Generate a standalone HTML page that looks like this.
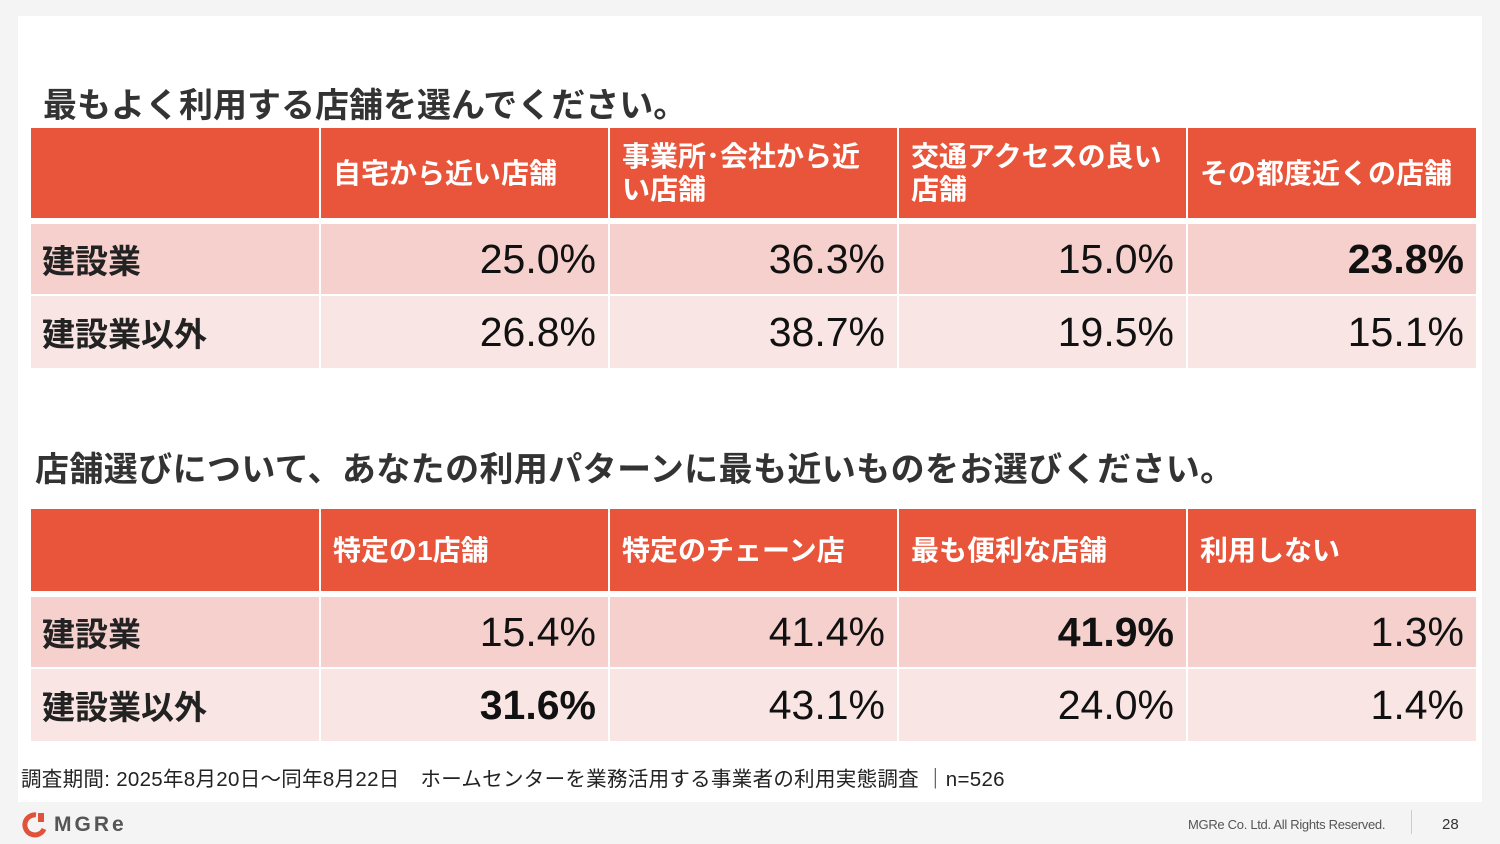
<!DOCTYPE html>
<html><head><meta charset="utf-8"><style>
body{margin:0;width:1500px;height:844px;background:#f4f4f4;position:relative;overflow:hidden;font-family:"Liberation Sans","Noto Sans CJK JP",sans-serif;color:#222}
.card{position:absolute;left:18px;top:16px;width:1464px;height:786px;background:#fff}
.c{position:absolute;box-sizing:border-box;display:flex;align-items:center}
.h{background:#e8553a;color:#fff;font-weight:bold;font-size:28px;line-height:33px;padding-left:12px}
.r1{background:#f5d0cc}.r2{background:#f9e6e4}
.lab{font-weight:bold;font-size:33px;padding-left:11px;color:#222}
.num{justify-content:flex-end;padding-right:12px;font-size:41px;color:#111}
.b{font-weight:bold}
.t{position:absolute;font-weight:bold;font-size:34px;color:#333;white-space:nowrap}
</style></head><body>
<div class="card"></div>
<div class="t" style="left:43px;top:78px">最もよく利用する店舗を選んでください。</div>
<div class="t" style="left:35px;top:442px;letter-spacing:0.4px">店舗選びについて、あなたの利用パターンに最も近いものをお選びください。</div>

<!-- table 1 -->
<div class="c h" style="left:31px;top:128px;width:288px;height:90px"></div>
<div class="c h" style="left:321px;top:128px;width:287px;height:90px">自宅から近い店舗</div>
<div class="c h" style="left:610px;top:128px;width:287px;height:90px">事業所･会社から近<br>い店舗</div>
<div class="c h" style="left:899px;top:128px;width:287px;height:90px">交通アクセスの良い<br>店舗</div>
<div class="c h" style="left:1188px;top:128px;width:288px;height:90px">その都度近くの店舗</div>

<div class="c r1 lab" style="left:31px;top:224px;width:288px;height:70px">建設業</div>
<div class="c r1 num" style="left:321px;top:224px;width:287px;height:70px">25.0%</div>
<div class="c r1 num" style="left:610px;top:224px;width:287px;height:70px">36.3%</div>
<div class="c r1 num" style="left:899px;top:224px;width:287px;height:70px">15.0%</div>
<div class="c r1 num b" style="left:1188px;top:224px;width:288px;height:70px">23.8%</div>

<div class="c r2 lab" style="left:31px;top:296px;width:288px;height:72px">建設業以外</div>
<div class="c r2 num" style="left:321px;top:296px;width:287px;height:72px">26.8%</div>
<div class="c r2 num" style="left:610px;top:296px;width:287px;height:72px">38.7%</div>
<div class="c r2 num" style="left:899px;top:296px;width:287px;height:72px">19.5%</div>
<div class="c r2 num" style="left:1188px;top:296px;width:288px;height:72px">15.1%</div>

<!-- table 2 -->
<div class="c h" style="left:31px;top:509px;width:288px;height:82px"></div>
<div class="c h" style="left:321px;top:509px;width:287px;height:82px">特定の1店舗</div>
<div class="c h" style="left:610px;top:509px;width:287px;height:82px">特定のチェーン店</div>
<div class="c h" style="left:899px;top:509px;width:287px;height:82px">最も便利な店舗</div>
<div class="c h" style="left:1188px;top:509px;width:288px;height:82px">利用しない</div>

<div class="c r1 lab" style="left:31px;top:597px;width:288px;height:70px">建設業</div>
<div class="c r1 num" style="left:321px;top:597px;width:287px;height:70px">15.4%</div>
<div class="c r1 num" style="left:610px;top:597px;width:287px;height:70px">41.4%</div>
<div class="c r1 num b" style="left:899px;top:597px;width:287px;height:70px">41.9%</div>
<div class="c r1 num" style="left:1188px;top:597px;width:288px;height:70px">1.3%</div>

<div class="c r2 lab" style="left:31px;top:669px;width:288px;height:72px">建設業以外</div>
<div class="c r2 num b" style="left:321px;top:669px;width:287px;height:72px">31.6%</div>
<div class="c r2 num" style="left:610px;top:669px;width:287px;height:72px">43.1%</div>
<div class="c r2 num" style="left:899px;top:669px;width:287px;height:72px">24.0%</div>
<div class="c r2 num" style="left:1188px;top:669px;width:288px;height:72px">1.4%</div>

<div style="position:absolute;left:21px;top:762px;font-size:20.5px;color:#222;white-space:nowrap;letter-spacing:0.3px">調査期間: 2025年8月20日～同年8月22日　ホームセンターを業務活用する事業者の利用実態調査 ｜n=526</div>

<svg style="position:absolute;left:21px;top:812px" width="26" height="26" viewBox="0 0 26 26"><path d="M15 3 A10 10 0 1 0 23 17" fill="none" stroke="#e0533a" stroke-width="5"/><rect x="17" y="1" width="6" height="9" fill="#e0533a"/></svg>
<div style="position:absolute;left:54px;top:813px;font-size:21px;letter-spacing:3px;color:#555;font-weight:bold">MGRe</div>
<div style="position:absolute;left:1188px;top:817px;font-size:13px;color:#555;letter-spacing:-0.3px">MGRe Co. Ltd. All Rights Reserved.</div>
<div style="position:absolute;left:1411px;top:810px;width:1px;height:24px;background:#ccc"></div>
<div style="position:absolute;left:1442px;top:816px;font-size:15px;color:#333">28</div>
</body></html>
